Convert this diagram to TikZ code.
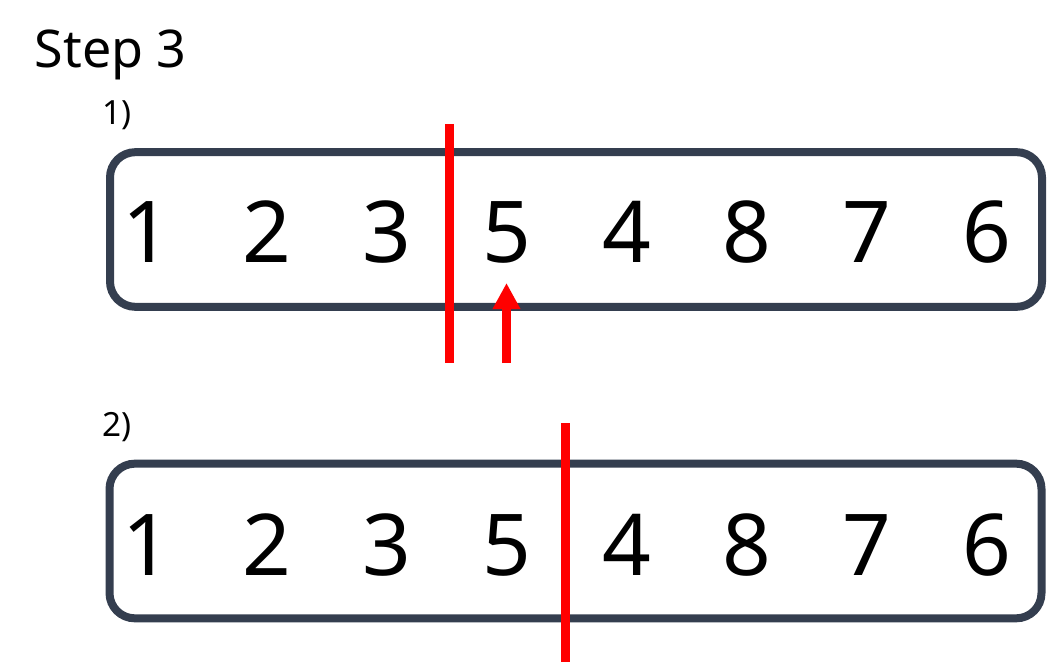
\documentclass[tikz,border=0pt]{standalone}
\usepackage{fontspec}
\setmainfont{Noto Sans}
\usetikzlibrary{arrows.meta}
\definecolor{boxgray}{HTML}{343E4F}
\begin{document}
\begin{tikzpicture}[x=0.75pt,y=-0.75pt,
        arr/.style={draw=boxgray,line width=6pt,rounded corners=19pt,
            minimum width=699pt,minimum height=116pt},
        digit/.style={anchor=base,font=\fontsize{64}{70}\selectfont},
        cut/.style={draw=red,line width=6.75pt}]
        \useasboundingbox (0,0) rectangle (1061,667);
        \node[anchor=base west,font=\fontsize{39}{45}\selectfont] (title) at (30,68) {Step 3};
        \node[anchor=base west,font=\fontsize{25}{30}\selectfont] (lab1) at (98,125) {1)};
        \node[anchor=base west,font=\fontsize{25}{30}\selectfont] (lab2) at (98,436) {2)};
        \node[arr] (row1) at (576,229.5) {};
        \node[arr] (row2) at (575.5,541) {};
        \foreach \d [count=\i] in {1,2,3,5,4,8,7,6} {
            \node[digit] (a\i) at (27+120*\i,262) {\d};
            \node[digit] (b\i) at (27+120*\i,575) {\d};
        }
        % step 1: border after 3, pointer at 5
        \coordinate (c1t) at (449,124);
        \coordinate (c1b) at (449,363);
        \coordinate (p1b) at (506.5,363);
        \coordinate (p1t) at (506.5,283);
        \draw[cut] (c1t) -- (c1b);
        \draw[cut,-{Triangle[length=19.5pt,width=19.5pt]}] (p1b) -- (p1t);
        % step 2: border after 5
        \coordinate (c2t) at (565,423);
        \coordinate (c2b) at (565,662);
        \draw[cut] (c2t) -- (c2b);
\end{tikzpicture}
\end{document}
